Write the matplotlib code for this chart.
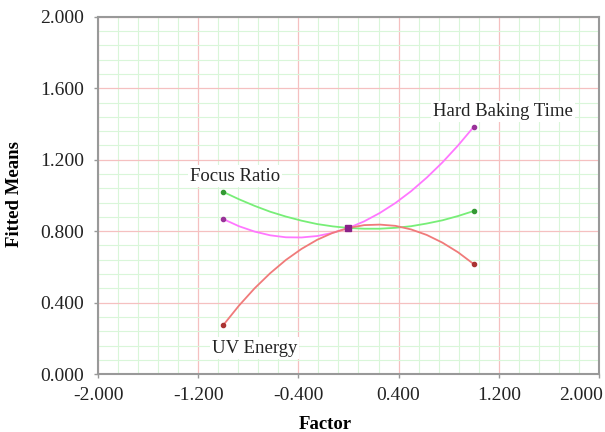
import matplotlib
matplotlib.use("Agg")
import matplotlib.pyplot as plt
import matplotlib.transforms as mtransforms
from matplotlib.ticker import FixedLocator, MultipleLocator, FormatStrFormatter

plt.rcParams['font.family'] = ['Liberation Serif', 'DejaVu Serif']

factor = [-1.0, -0.875, -0.75, -0.625, -0.5, -0.375, -0.25, -0.125, 0.0,
          0.125, 0.25, 0.375, 0.5, 0.625, 0.75, 0.875, 1.0]
focus_ratio = [1.020, 0.979, 0.942, 0.909, 0.882, 0.859, 0.840, 0.827, 0.818,
               0.814, 0.814, 0.819, 0.828, 0.843, 0.861, 0.885, 0.913]
hard_baking = [0.868, 0.828, 0.798, 0.777, 0.766, 0.765, 0.773, 0.791, 0.818,
               0.855, 0.902, 0.958, 1.024, 1.100, 1.185, 1.280, 1.384]
uv_energy = [0.274, 0.383, 0.480, 0.565, 0.639, 0.701, 0.752, 0.791, 0.818,
             0.834, 0.837, 0.830, 0.810, 0.779, 0.736, 0.682, 0.616]

marker_x = [-1.0, 0.0, 1.0]
labels = ["Focus Ratio", "Hard Baking Time", "UV Energy"]
x_ticks = [-2.0, -1.2, -0.4, 0.4, 1.2, 2.0]
y_ticks = [0.0, 0.4, 0.8, 1.2, 1.6, 2.0]

fig = plt.figure(figsize=(6.05, 4.32), dpi=100)
ax = fig.add_axes([0.162, 0.134, 0.828, 0.827])

ax.set_xlim(-2, 2)
ax.set_ylim(0, 2)
ax.set_xticks(x_ticks)
ax.set_yticks(y_ticks)
x_minor = [-2.0 + 0.16 * i for i in range(26)]
ax.xaxis.set_minor_locator(FixedLocator(x_minor))
ax.yaxis.set_minor_locator(MultipleLocator(0.08))
ax.xaxis.set_major_formatter(FormatStrFormatter('%.3f'))
ax.yaxis.set_major_formatter(FormatStrFormatter('%.3f'))
ax.grid(which='minor', color='#d9f6d9', linewidth=0.8, zorder=0)
ax.grid(which='major', color='#f5c0c0', linewidth=0.9, zorder=0)
ax.set_axisbelow(True)

series = [
    (focus_ratio, '#77ee77', '#339933'),
    (hard_baking, '#ff77ff', '#993399'),
    (uv_energy, '#f07a7a', '#aa3333'),
]
for ys, lc, mc in series:
    ax.plot(factor, ys, color=lc, linewidth=1.3, zorder=3)
    mys = [ys[factor.index(m)] for m in marker_x]
    ax.plot(marker_x, mys, linestyle='none', marker='o', markersize=3,
            color=mc, zorder=4)

ax.plot([0.0], [focus_ratio[factor.index(0.0)]], marker='s', markersize=4,
        color='#882288', zorder=5, linestyle='none')

bb = dict(facecolor='white', edgecolor='none', pad=1.5)
ax.text(-0.904, 1.109, labels[0], ha='center', va='center', fontsize=13.5,
        color='#222222', zorder=6, bbox=bb)
ax.text(1.232, 1.468, labels[1], ha='center', va='center', fontsize=13.5,
        color='#222222', zorder=6, bbox=bb)
ax.text(-0.752, 0.146, labels[2], ha='center', va='center', fontsize=13.5,
        color='#222222', zorder=6, bbox=bb)

for s in ax.spines.values():
    s.set_color('#999999')
    s.set_linewidth(1.5)
ax.tick_params(axis='both', labelsize=14, colors='#222222', length=3,
               width=1, which='major')
ax.tick_params(axis='y', pad=7)
ax.tick_params(axis='x', pad=6)
ax.tick_params(which='major', color='#999999')
ax.tick_params(which='minor', length=0)

fig.canvas.draw()
last = ax.get_xticklabels()[-1]
last.set_ha('right')
last.set_transform(last.get_transform() +
                   mtransforms.ScaledTranslation(4 / 100, 0, fig.dpi_scale_trans))

ax.set_xlabel('Factor', fontsize=13.5, fontweight='bold', va='center')
ax.xaxis.set_label_coords(0.453, -0.140)
ax.set_ylabel('Fitted Means', fontsize=13.5, fontweight='bold', va='center')
ax.yaxis.set_label_coords(-0.166, 0.504)

fig.savefig('out.png', dpi=100)
